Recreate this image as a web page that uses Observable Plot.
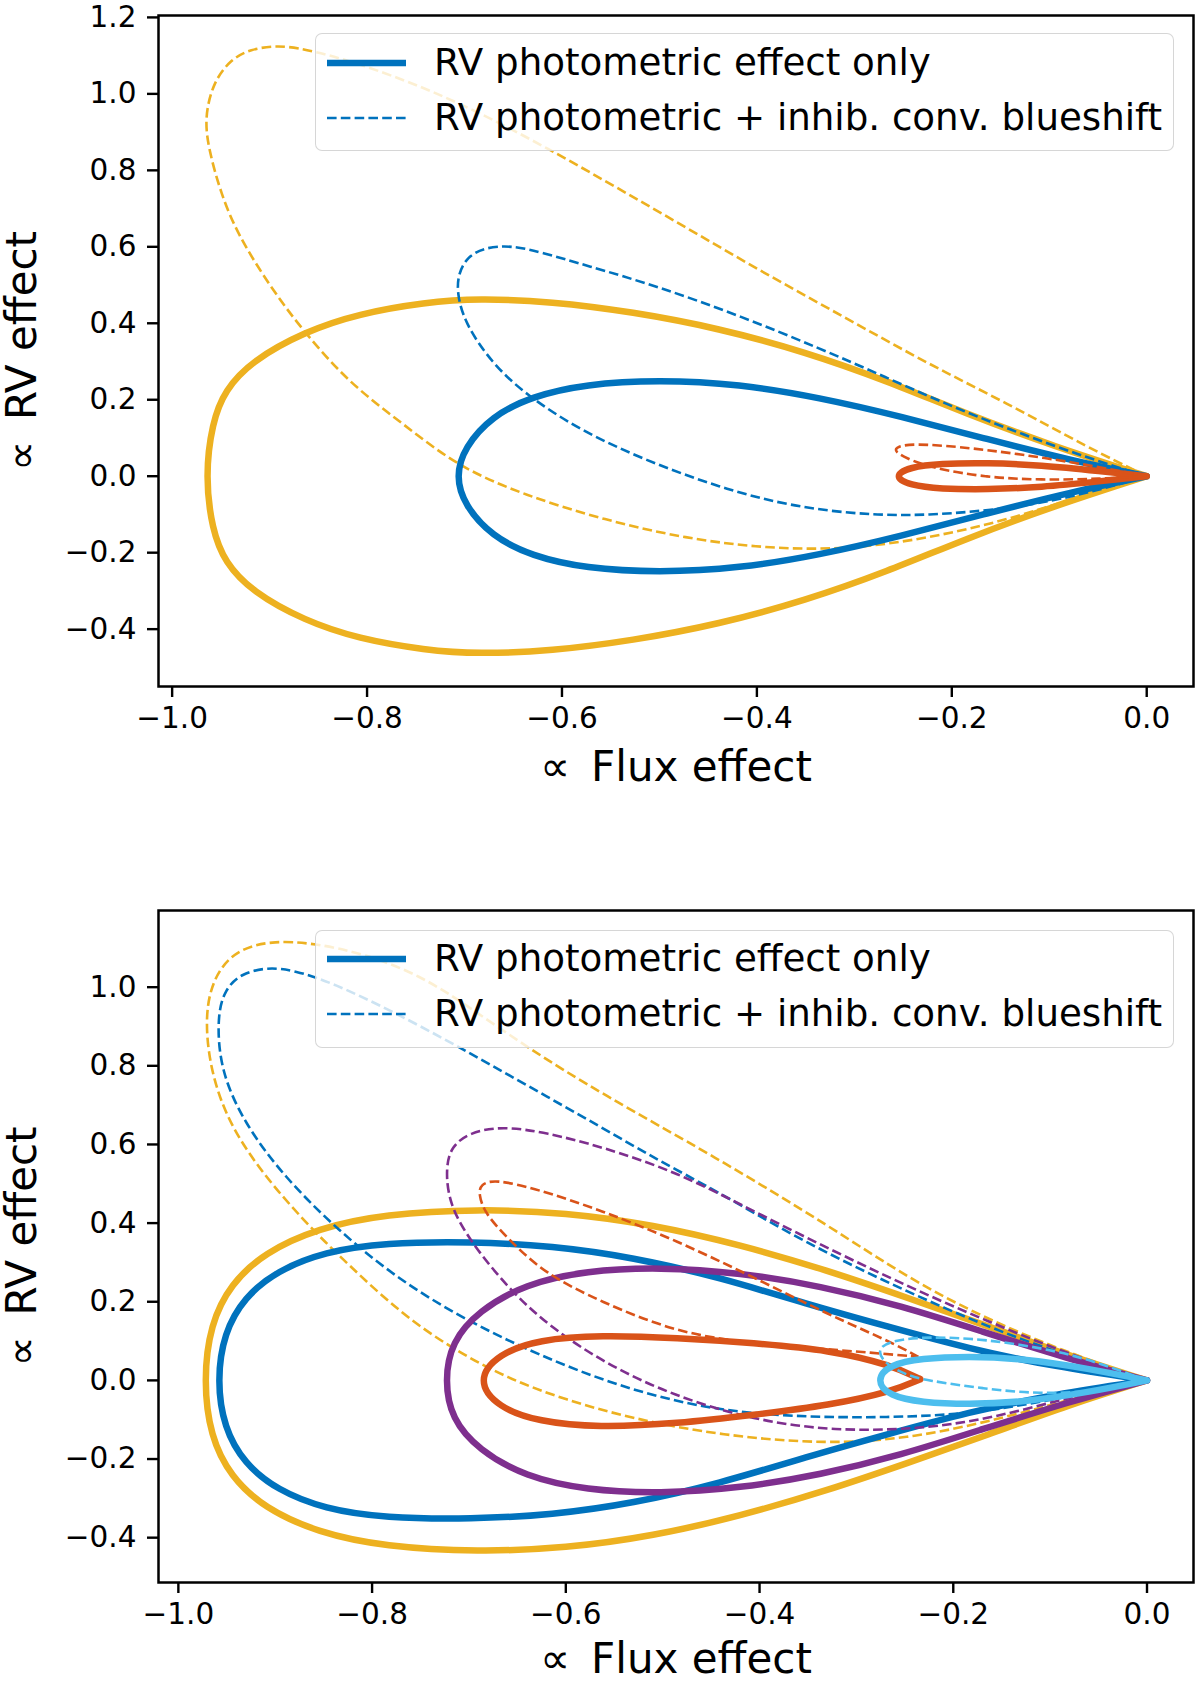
<!DOCTYPE html>
<html>
<head>
<meta charset="utf-8">
<script src="https://cdn.jsdelivr.net/npm/d3@7"></script>
<script src="https://cdn.jsdelivr.net/npm/@observablehq/plot@0.6"></script>
<style>
  body { margin: 0; background: white; }
  #page { position: relative; width: 1200px; height: 1684px; font-family: "DejaVu Sans", sans-serif; }
  #page svg { display: block; }
  .legend {
    position: absolute; left: 315px; width: 859px; height: 118px; box-sizing: border-box;
    background: rgba(255,255,255,0.8); border: 1.8px solid rgba(204,204,204,0.8); border-radius: 7px;
  }
  .legend .txt {
    position: absolute; left: 118px; transform: translateY(-50%);
    font-size: 37.2px; line-height: 1; white-space: nowrap; color: black;
  }
  .legend svg { position: absolute; left: 11px; }
</style>
</head>
<body>
<div id="page"></div>
<script>
// tick values
const xTicks = [-1.0, -0.8, -0.6, -0.4, -0.2, 0.0];
const yTicksTop = [-0.4, -0.2, 0.0, 0.2, 0.4, 0.6, 0.8, 1.0, 1.2];
const yTicksBottom = [-0.4, -0.2, 0.0, 0.2, 0.4, 0.6, 0.8, 1.0];

const legendLabels = ["RV photometric effect only", "RV photometric + inhib. conv. blueshift"];

// ---- top panel curves, [flux, rv] ----
const topYellowSolid = [
  [0,0],[-0.095,0.078],[-0.185,0.163],[-0.267,0.250],[-0.350,0.325],[-0.439,0.387],[-0.528,0.430],
  [-0.611,0.457],[-0.686,0.465],[-0.740,0.455],[-0.809,0.425],[-0.864,0.378],[-0.918,0.302],
  [-0.946,0.225],[-0.959,0.140],[-0.966,0.0],[-0.959,-0.140],[-0.946,-0.225],[-0.918,-0.302],
  [-0.864,-0.378],[-0.809,-0.425],[-0.740,-0.455],[-0.686,-0.465],[-0.611,-0.457],[-0.528,-0.430],
  [-0.439,-0.387],[-0.350,-0.325],[-0.267,-0.250],[-0.185,-0.163],[-0.095,-0.078],[0,0]
];
const topYellowDashed = [
  [0,0],[-0.061,0.076],[-0.144,0.192],[-0.226,0.296],[-0.308,0.413],[-0.391,0.529],[-0.473,0.651],
  [-0.556,0.773],[-0.645,0.901],[-0.734,1.011],[-0.817,1.087],[-0.865,1.118],[-0.892,1.127],
  [-0.920,1.117],[-0.940,1.090],[-0.958,1.030],[-0.967,0.935],[-0.962,0.850],[-0.950,0.740],
  [-0.933,0.633],[-0.899,0.494],[-0.865,0.378],[-0.817,0.240],[-0.762,0.135],[-0.707,0.025],
  [-0.638,-0.050],[-0.556,-0.115],[-0.473,-0.163],[-0.391,-0.189],[-0.308,-0.192],[-0.226,-0.163],
  [-0.144,-0.116],[-0.061,-0.046],[0,0]
];
const topBlueSolid = [
  [0,0],[-0.075,0.040],[-0.164,0.097],[-0.253,0.157],[-0.336,0.206],[-0.418,0.241],[-0.501,0.252],
  [-0.576,0.241],[-0.631,0.209],[-0.672,0.157],[-0.700,0.076],[-0.709,0.0],[-0.700,-0.076],
  [-0.672,-0.157],[-0.631,-0.209],[-0.576,-0.241],[-0.501,-0.252],[-0.418,-0.241],[-0.336,-0.206],
  [-0.253,-0.157],[-0.164,-0.097],[-0.075,-0.040],[0,0]
];
const topBlueDashed = [
  [0,0],[-0.061,0.048],[-0.130,0.112],[-0.198,0.180],[-0.267,0.258],[-0.336,0.335],[-0.418,0.420],
  [-0.501,0.496],[-0.576,0.552],[-0.620,0.585],[-0.652,0.604],[-0.680,0.598],[-0.697,0.574],
  [-0.706,0.532],[-0.708,0.482],[-0.700,0.401],[-0.672,0.296],[-0.638,0.215],[-0.583,0.122],
  [-0.514,0.041],[-0.439,-0.029],[-0.363,-0.081],[-0.274,-0.105],[-0.198,-0.099],[-0.116,-0.076],
  [-0.047,-0.035],[0,0]
];
const topOrangeSolid = [
  [0,0],[-0.047,0.013],[-0.109,0.029],[-0.164,0.035],[-0.212,0.033],[-0.243,0.024],[-0.260,0.0],
  [-0.243,-0.024],[-0.212,-0.033],[-0.164,-0.035],[-0.109,-0.029],[-0.047,-0.013],[0,0]
];
const topOrangeDashed = [
  [0,0],[-0.061,0.030],[-0.130,0.058],[-0.195,0.078],[-0.240,0.085],[-0.256,0.078],[-0.259,0.066],
  [-0.248,0.048],[-0.219,0.020],[-0.164,-0.003],[-0.109,-0.010],[-0.047,-0.007],[0,0]
];

// ---- bottom panel curves ----
const botYellowSolid = [
  [0,0],[-0.081,0.063],[-0.164,0.138],[-0.247,0.210],[-0.330,0.280],[-0.420,0.345],[-0.510,0.396],
  [-0.600,0.427],[-0.690,0.436],[-0.787,0.423],[-0.856,0.387],[-0.911,0.325],[-0.946,0.245],
  [-0.967,0.143],[-0.974,0.0],[-0.967,-0.143],[-0.946,-0.245],[-0.911,-0.325],[-0.856,-0.387],
  [-0.787,-0.423],[-0.690,-0.436],[-0.600,-0.427],[-0.510,-0.396],[-0.420,-0.345],[-0.330,-0.280],
  [-0.247,-0.210],[-0.164,-0.138],[-0.081,-0.063],[0,0]
];
const botYellowDashed = [
  [0,0],[-0.090,0.078],[-0.169,0.160],[-0.248,0.262],[-0.327,0.391],[-0.446,0.569],[-0.564,0.730],
  [-0.640,0.847],[-0.700,0.950],[-0.750,1.030],[-0.808,1.085],[-0.860,1.112],[-0.901,1.118],
  [-0.935,1.100],[-0.958,1.050],[-0.972,0.960],[-0.970,0.824],[-0.953,0.677],[-0.918,0.540],
  [-0.870,0.404],[-0.825,0.295],[-0.770,0.170],[-0.717,0.080],[-0.660,0.005],[-0.600,-0.050],
  [-0.530,-0.098],[-0.440,-0.140],[-0.330,-0.163],[-0.240,-0.146],[-0.150,-0.097],[-0.067,-0.040],[0,0]
];
const botBlueSolid = [
  [0,0],[-0.095,0.035],[-0.185,0.081],[-0.268,0.137],[-0.351,0.194],[-0.441,0.262],[-0.531,0.313],
  [-0.614,0.342],[-0.697,0.353],[-0.787,0.350],[-0.849,0.327],[-0.898,0.279],[-0.932,0.211],
  [-0.953,0.120],[-0.960,0.0],[-0.953,-0.120],[-0.932,-0.211],[-0.898,-0.279],[-0.849,-0.327],
  [-0.787,-0.350],[-0.697,-0.353],[-0.614,-0.342],[-0.531,-0.313],[-0.441,-0.262],[-0.351,-0.194],
  [-0.268,-0.137],[-0.185,-0.081],[-0.095,-0.035],[0,0]
];
const botBlueDashed = [
  [0,0],[-0.051,0.038],[-0.130,0.103],[-0.209,0.183],[-0.288,0.272],[-0.367,0.370],[-0.446,0.484],
  [-0.505,0.560],[-0.564,0.645],[-0.640,0.750],[-0.710,0.848],[-0.780,0.940],[-0.840,1.010],
  [-0.880,1.043],[-0.908,1.051],[-0.935,1.035],[-0.952,0.995],[-0.960,0.926],[-0.957,0.790],
  [-0.932,0.654],[-0.891,0.518],[-0.835,0.381],[-0.773,0.257],[-0.704,0.154],[-0.628,0.064],
  [-0.545,-0.016],[-0.455,-0.073],[-0.365,-0.093],[-0.268,-0.095],[-0.178,-0.085],[-0.088,-0.045],[0,0]
];
const botPurpleSolid = [
  [0,0],[-0.081,0.055],[-0.171,0.125],[-0.254,0.190],[-0.337,0.240],[-0.420,0.274],[-0.503,0.288],
  [-0.579,0.279],[-0.642,0.245],[-0.690,0.177],[-0.718,0.098],[-0.725,0.0],[-0.718,-0.098],
  [-0.690,-0.177],[-0.642,-0.245],[-0.579,-0.279],[-0.503,-0.288],[-0.420,-0.274],[-0.337,-0.240],
  [-0.254,-0.190],[-0.171,-0.125],[-0.081,-0.055],[0,0]
];
const botPurpleDashed = [
  [0,0],[-0.090,0.075],[-0.169,0.155],[-0.248,0.240],[-0.327,0.333],[-0.406,0.430],[-0.485,0.530],
  [-0.564,0.595],[-0.620,0.630],[-0.666,0.647],[-0.700,0.630],[-0.718,0.595],[-0.724,0.543],
  [-0.721,0.449],[-0.697,0.347],[-0.655,0.222],[-0.614,0.132],[-0.558,0.041],[-0.489,-0.039],
  [-0.406,-0.101],[-0.323,-0.129],[-0.233,-0.124],[-0.157,-0.095],[-0.074,-0.039],[0,0]
];
const botOrangeSolid = [
  [-0.234,0.003],[-0.264,0.039],[-0.327,0.077],[-0.406,0.095],[-0.485,0.108],[-0.564,0.115],
  [-0.628,0.104],[-0.670,0.067],[-0.692,0.0],[-0.670,-0.069],[-0.628,-0.105],[-0.567,-0.120],
  [-0.485,-0.110],[-0.406,-0.088],[-0.327,-0.063],[-0.264,-0.029],[-0.234,0.003]
];
const botOrangeDashed = [
  [-0.236,0.060],[-0.268,0.102],[-0.327,0.165],[-0.406,0.262],[-0.485,0.355],[-0.564,0.433],
  [-0.630,0.487],[-0.674,0.512],[-0.688,0.498],[-0.690,0.475],[-0.684,0.425],[-0.658,0.356],
  [-0.622,0.272],[-0.564,0.200],[-0.489,0.125],[-0.420,0.097],[-0.351,0.083],[-0.282,0.070],[-0.236,0.060]
];
const botLightBlueSolid = [
  [0,0],[-0.060,0.030],[-0.129,0.056],[-0.185,0.061],[-0.233,0.056],[-0.266,0.040],[-0.280,0.0],
  [-0.266,-0.040],[-0.233,-0.056],[-0.185,-0.061],[-0.129,-0.056],[-0.060,-0.030],[0,0]
];
const botLightBlueDashed = [
  [0,0],[-0.040,0.036],[-0.090,0.075],[-0.169,0.106],[-0.228,0.111],[-0.262,0.102],[-0.279,0.082],
  [-0.272,0.044],[-0.248,0.013],[-0.228,0.0],[-0.169,-0.021],[-0.110,-0.035],[-0.053,-0.028],[0,0]
];

const colors = {blue: "#0072BD", orange: "#D95319", yellow: "#EDB120", purple: "#7E2F8E", lightBlue: "#4DBEEE"};

const topSeries = [
  [topYellowSolid, "yellow", false], [topYellowDashed, "yellow", true],
  [topBlueSolid, "blue", false], [topBlueDashed, "blue", true],
  [topOrangeSolid, "orange", false], [topOrangeDashed, "orange", true]
];
const botSeries = [
  [botYellowSolid, "yellow", false], [botYellowDashed, "yellow", true],
  [botBlueSolid, "blue", false], [botBlueDashed, "blue", true],
  [botPurpleSolid, "purple", false], [botPurpleDashed, "purple", true],
  [botOrangeSolid, "orange", false], [botOrangeDashed, "orange", true],
  [botLightBlueSolid, "lightBlue", false], [botLightBlueDashed, "lightBlue", true]
];

const fmt = d3.format(".1f");
const DASH = "9.6,4.2";

function panel(series, xDomain, yDomain, yTicks, height, marginTop, marginBottom, labelDy) {
  // basis spline smooths out the hand-read points a bit
  const marks = series.map(([pts, c, dashed]) =>
    Plot.line(pts, {
      x: (d) => d[0], y: (d) => d[1],
      stroke: colors[c],
      strokeWidth: dashed ? 2.6 : 6.5,
      strokeDasharray: dashed ? DASH : "none",
      strokeLinecap: dashed ? "butt" : "round",
      curve: "basis"
    })
  );
  return Plot.plot({
    width: 1200,
    height,
    marginLeft: 158,
    marginRight: 7,
    marginTop,
    marginBottom,
    x: {domain: xDomain},
    y: {domain: yDomain},
    style: {fontFamily: "DejaVu Sans", background: "white", color: "black", overflow: "visible"},
    marks: [
      ...marks,
      Plot.axisX({ticks: xTicks, tickFormat: fmt, tickSize: 11, tickPadding: 10, fontSize: 29.5, strokeWidth: 2.4, label: null}),
      Plot.axisY({ticks: yTicks, tickFormat: fmt, tickSize: 11, tickPadding: 11, fontSize: 29.5, strokeWidth: 2.4, label: null}),
      Plot.frame({stroke: "black", strokeWidth: 2.5}),
      Plot.text(["\u221D\u2002Flux effect"], {text: (d) => d, frameAnchor: "bottom", dy: labelDy, fontSize: 42, lineAnchor: "middle"}),
      Plot.text(["\u221D\u2002RV effect"], {text: (d) => d, frameAnchor: "left", dx: -135.5, rotate: -90, fontSize: 42, lineAnchor: "middle", textAnchor: "middle"})
    ]
  });
}

const page = document.getElementById("page");
page.append(panel(topSeries, [-1.014, 0.048], [-0.55, 1.205], yTicksTop, 840, 15, 154, 81.5));
page.append(panel(botSeries, [-1.0205, 0.048], [-0.514, 1.195], yTicksBottom, 844, 70, 102, 77));

function legend(top) {
  const box = document.createElement("div");
  box.className = "legend";
  box.style.top = top + "px";
  legendLabels.forEach((label, i) => {
    const cy = i === 0 ? 28.8 : 83.6;
    const dashed = i === 1;
    const s = document.createElementNS("http://www.w3.org/2000/svg", "svg");
    s.setAttribute("width", 80);
    s.setAttribute("height", 12);
    s.style.top = (cy - 6) + "px";
    s.innerHTML = `<line x1="0" x2="79" y1="6" y2="6" stroke="${colors.blue}" stroke-width="${dashed ? 2.6 : 6.5}"` +
      (dashed ? ` stroke-dasharray="${DASH}"` : "") + `/>`;
    box.append(s);
    const t = document.createElement("div");
    t.className = "txt";
    t.style.top = cy + "px";
    t.textContent = label;
    box.append(t);
  });
  page.append(box);
}
legend(33.2);
legend(929.5);
</script>
</body>
</html>
